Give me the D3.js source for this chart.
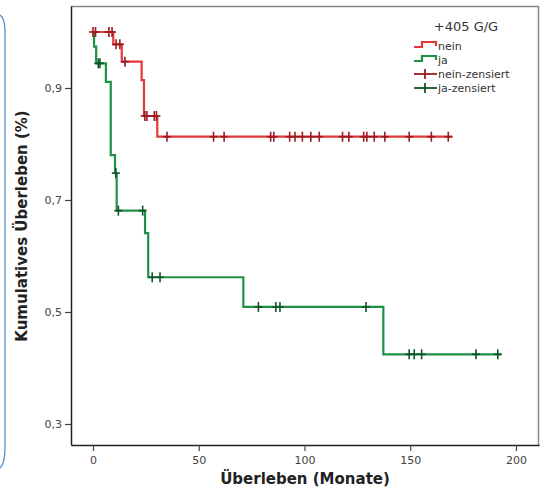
<!DOCTYPE html>
<html>
<head>
<meta charset="utf-8">
<script src="https://d3js.org/d3.v7.min.js"></script>
<style>
  body { margin: 0; background: #fff; font-family: "DejaVu Sans", sans-serif; }
</style>
</head>
<body>
<script>
// Kaplan-Meier steps (time in months, survival fraction)
var neinTimes = [0, 9.6, 13.6, 23, 24.1, 30.4];
var neinSurv = [1.0, 0.978, 0.947, 0.914, 0.85, 0.813];
var neinEnd = 170;
var neinCensored = [0, 1.2, 7.5, 9, 10.9, 12.7, 15.1, 24.5, 25.5, 29, 30, 35, 57, 62, 84, 85.5,
  93, 95.5, 99, 103, 107, 118, 121, 128, 129.5, 133, 138, 149.5, 160, 168];

var jaTimes = [0, 0.5, 1.5, 6.1, 8.4, 10.4, 11.2, 24.6, 26.1, 71.1, 137.3];
var jaSurv = [1.0, 0.974, 0.944, 0.911, 0.78, 0.748, 0.681, 0.641, 0.562, 0.509, 0.4245];
var jaEnd = 193;
var jaCensored = [2.5, 3.3, 10.8, 12, 23.5, 28, 31.7, 78.2, 86.5, 88.4, 129.1, 149.5, 151.9,
  155.4, 181.1, 191.4];

var xTicks = [0, 50, 100, 150, 200];
var yTicks = [0.3, 0.5, 0.7, 0.9];
var legendLabels = ["nein", "ja", "nein-zensiert", "ja-zensiert"];

var w = 542, h = 490;
var plotL = 71, plotR = 539, plotT = 6, plotB = 445;

var svg = d3.select("body").append("svg")
  .attr("width", w).attr("height", h);

// blue selection frame on the left edge
svg.append("path")
  .attr("d", "M0,15 Q5,18 5,32 V448 Q5,463 0,468")
  .attr("fill", "none").attr("stroke", "#4a86c8").attr("stroke-width", 1.2);

var x = d3.scaleLinear().domain([-10.4, 210.9]).range([plotL, plotR]);
var y = d3.scaleLinear().domain([0.2625, 1.0464]).range([plotB, plotT]);

// frame
svg.append("line").attr("x1", plotL).attr("x2", plotR).attr("y1", plotT + 0.5).attr("y2", plotT + 0.5)
  .attr("stroke", "#888").attr("stroke-width", 1.5);
svg.append("line").attr("x1", plotR - 0.5).attr("x2", plotR - 0.5).attr("y1", plotT).attr("y2", plotB)
  .attr("stroke", "#888").attr("stroke-width", 1.5);

var xAxis = svg.append("g").attr("transform", "translate(0," + plotB + ")")
  .call(d3.axisBottom(x).tickValues(xTicks).tickSize(6).tickPadding(5).tickSizeOuter(0));
var yAxis = svg.append("g").attr("transform", "translate(" + plotL + ",0)")
  .call(d3.axisLeft(y).tickValues(yTicks).tickSize(6).tickPadding(3).tickSizeOuter(0)
    .tickFormat(function(d) { return d3.format(".1f")(d).replace(".", ","); }));

[xAxis, yAxis].forEach(function(a) {
  a.select(".domain").attr("stroke", "#222").attr("stroke-width", 1.5);
  a.selectAll(".tick line").attr("stroke", "#444").attr("stroke-width", 1.2);
  a.selectAll(".tick text").attr("fill", "#444").style("font-size", "11px")
    .style("font-family", "DejaVu Sans, sans-serif");
});

svg.append("text").attr("x", 305).attr("y", 484).attr("text-anchor", "middle")
  .style("font-size", "15px").style("font-weight", "bold").attr("fill", "#222")
  .text("Überleben (Monate)");
svg.append("text").attr("transform", "translate(27,226) rotate(-90)").attr("text-anchor", "middle")
  .style("font-size", "15px").style("font-weight", "bold").attr("fill", "#222")
  .text("Kumulatives Überleben (%)");

function stepPoints(times, surv, end) {
  var pts = [];
  times.forEach(function(t, i) { pts.push([t, surv[i]]); });
  pts.push([end, surv[surv.length - 1]]);
  return pts;
}
function survAt(times, surv, t) {
  var v = surv[0];
  times.forEach(function(tt, i) { if (tt <= t) v = surv[i]; });
  return v;
}

var line = d3.line().x(function(d) { return x(d[0]); }).y(function(d) { return y(d[1]); })
  .curve(d3.curveStepAfter);

var groups = [
  { times: neinTimes, surv: neinSurv, end: neinEnd, cens: neinCensored, line: "#e5383d", mark: "#9b1b20" },
  { times: jaTimes, surv: jaSurv, end: jaEnd, cens: jaCensored, line: "#1f9147", mark: "#0d5628" }
];

// draw ja first so nein sits on top, like the reference
groups.slice().reverse().forEach(function(g) {
  svg.append("path").datum(stepPoints(g.times, g.surv, g.end))
    .attr("d", line).attr("fill", "none").attr("stroke", g.line).attr("stroke-width", 2.2);
});
groups.slice().reverse().forEach(function(g) {
  var m = svg.append("g").selectAll("g").data(g.cens).enter().append("g")
    .attr("transform", function(t) { return "translate(" + x(t) + "," + y(survAt(g.times, g.surv, t)) + ")"; });
  m.append("line").attr("x1", 0).attr("x2", 0).attr("y1", -5).attr("y2", 5)
    .attr("stroke", g.mark).attr("stroke-width", 1.6);
  m.append("line").attr("x1", -4).attr("x2", 4).attr("y1", 0).attr("y2", 0)
    .attr("stroke", g.mark).attr("stroke-width", 1.6);
});

// legend
svg.append("text").attr("x", 466).attr("y", 31).attr("text-anchor", "middle")
  .style("font-size", "13px").attr("fill", "#333").text("+405 G/G");
var legY = [46, 60, 74, 88];
var legendColors = ["#e5383d", "#1f9147", "#9b1b20", "#0d5628"];
legendLabels.forEach(function(lab, i) {
  var yy = legY[i];
  if (i < 2) {
    svg.append("path").attr("d", "M414," + (yy + 1) + " h8 v-5 h14 v4")
      .attr("fill", "none").attr("stroke", legendColors[i]).attr("stroke-width", 2.2);
  } else {
    svg.append("line").attr("x1", 414).attr("x2", 437).attr("y1", yy).attr("y2", yy)
      .attr("stroke", legendColors[i]).attr("stroke-width", 1.8);
    svg.append("line").attr("x1", 425).attr("x2", 425).attr("y1", yy - 5).attr("y2", yy + 5)
      .attr("stroke", legendColors[i]).attr("stroke-width", 1.8);
  }
  svg.append("text").attr("x", 438).attr("y", yy + 4).style("font-size", "11px")
    .attr("fill", "#333").text(lab);
});
</script>
</body>
</html>
